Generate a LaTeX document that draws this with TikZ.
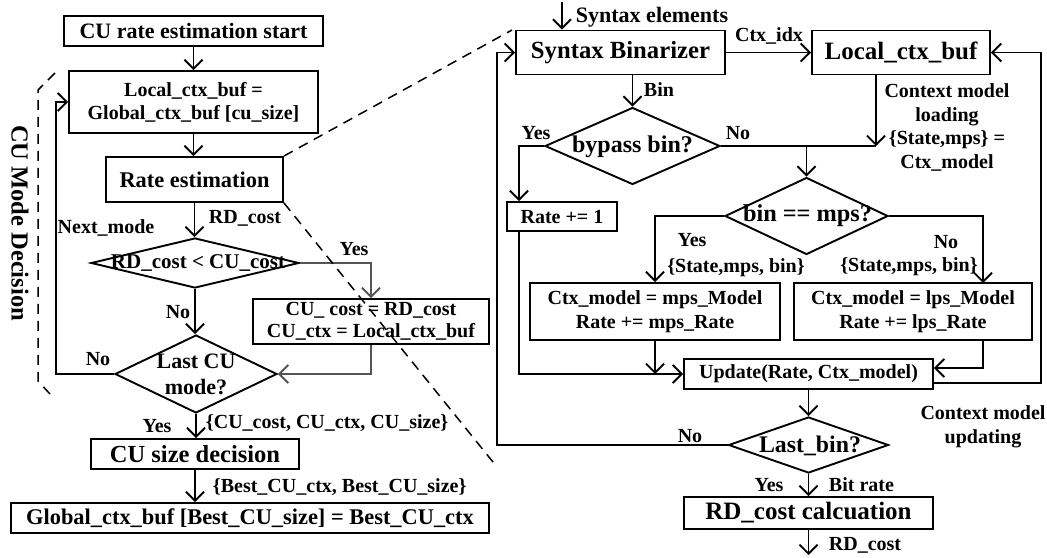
\documentclass[tikz,border=0pt]{standalone}
\usepackage{fontspec}
\setmainfont{Liberation Serif}
\usetikzlibrary{arrows.meta,shapes.geometric}
\definecolor{linkgrey}{RGB}{85,85,85}
\newcommand{\fsz}[2]{\fontsize{#1}{#2}\selectfont\bfseries}

\begin{document}
\begin{tikzpicture}[x=1pt,y=-1pt,
  line width=1.9pt,
  >={Straight Barb[length=9pt,width=18pt]},
  box/.style={draw,rectangle,inner sep=0pt,align=center},
  dia/.style={draw,diamond,inner sep=0pt},
  txt/.style={inner sep=0pt,align=center},
  lbl/.style={inner sep=0pt,align=center,font=\fsz{20}{23.5}},
  zoomline/.style={dash pattern=on 10pt off 7pt,line width=1.5pt},
]
\useasboundingbox (0,0) rectangle (1047,557);

% ---------- CU mode decision (left) ----------
\node[box,minimum width=259pt,minimum height=30pt,font=\fsz{22}{24}] (start) at (193.5,31) {CU rate estimation start};
\node[box,minimum width=249pt,minimum height=62pt,font=\fsz{20}{23}] (load) at (193.5,102) {Local\_ctx\_buf =\\Global\_ctx\_buf [cu\_size]};
\node[box,minimum width=177pt,minimum height=45pt,font=\fsz{22.4}{24}] (rate) at (194.5,179.5) {Rate estimation};
\node[dia,minimum width=208pt,minimum height=50pt] (cmp) at (195,263) {};
\node[txt,font=\fsz{21}{23}] (cmpt) at (198,263) {RD\_cost < CU\_cost};
\node[box,minimum width=236pt,minimum height=45pt,font=\fsz{20}{22}] (keep) at (371,321.5) {CU\_ cost = RD\_cost\\CU\_ctx = Local\_ctx\_buf};
\node[dia,minimum width=162pt,minimum height=78pt] (last) at (196,374) {};
\node[txt,font=\fsz{22}{26}] (lastt) at (196,374) {Last CU\\mode?};
\node[box,minimum width=208pt,minimum height=30pt,font=\fsz{24.5}{26}] (size) at (195,454) {CU size decision};
\node[box,minimum width=478pt,minimum height=30pt,font=\fsz{22.4}{24}] (store) at (250,518) {Global\_ctx\_buf [Best\_CU\_size] = Best\_CU\_ctx};

\draw[->] (start.south) -- (start.south |- load.north);
\draw[->] (load.south) -- (load.south |- rate.north);
\draw[->] (rate.south) -- (rate.south |- cmp.north);
\draw[->] (cmp.south) -- (cmp.south |- last.north);
\draw[->] (last.south) -- (last.south |- size.north);
\draw[->] (size.south) -- (size.south |- store.north);
\draw[->,linkgrey] (cmp.east) -| (keep.north);
\draw[->,linkgrey] (keep.south) |- (last.east);
\coordinate (lp) at (56,374);
\draw[->] (last.west) -- (lp) |- (load.west);

\node[lbl,anchor=west] (lrd) at (208,218) {RD\_cost};
\node[lbl] (lnext) at (106,228) {Next\_mode};
\node[lbl] (lyes1) at (354,249) {Yes};
\node[lbl] (lno1) at (178,312) {No};
\node[lbl] (lno2) at (98,359) {No};
\node[lbl] (lyes2) at (157,426) {Yes};
\node[lbl,anchor=west] (lcu) at (205,423) {\{CU\_cost, CU\_ctx, CU\_size\}};
\node[lbl,anchor=west] (lbest) at (212,487) {\{Best\_CU\_ctx, Best\_CU\_size\}};

% dashed bracket of the mode loop
\node[txt,rotate=-90,font=\fsz{24.5}{26}] (mode) at (20,223) {CU Mode Decision};
\draw[zoomline] (55,73) -- (38,90) -- (38,381) -- (50,394);

% ---------- rate estimation detail (right) ----------
\node[box,minimum width=209pt,minimum height=44pt,font=\fsz{24.7}{26}] (bin) at (620.5,52.5) {Syntax Binarizer};
\node[box,minimum width=178pt,minimum height=44pt,font=\fsz{25}{26}] (buf) at (901,52.5) {Local\_ctx\_buf};
\node[dia,minimum width=175pt,minimum height=77pt] (byp) at (632.5,146) {};
\node[txt,font=\fsz{24}{26}] (bypt) at (632.5,147) {bypass bin?};
\node[box,minimum width=110pt,minimum height=29pt,font=\fsz{20}{22}] (one) at (562,216.5) {Rate += 1};
\node[dia,minimum width=163pt,minimum height=77pt] (mps) at (806.5,216) {};
\node[txt,font=\fsz{24.3}{26}] (mpst) at (807.5,216) {bin == mps?};
\node[box,minimum width=250pt,minimum height=57pt,font=\fsz{20}{24}] (mpsm) at (655,311.5) {Ctx\_model = mps\_Model\\Rate += mps\_Rate};
\node[box,minimum width=238pt,minimum height=57pt,font=\fsz{20}{24}] (lpsm) at (913,311.5) {Ctx\_model = lps\_Model\\Rate += lps\_Rate};
\node[box,minimum width=249pt,minimum height=30pt,font=\fsz{20}{22}] (upd) at (808.5,374) {Update(Rate, Ctx\_model)};
\node[dia,minimum width=160pt,minimum height=56pt] (lbin) at (808.5,445) {};
\node[txt,font=\fsz{23.8}{26}] (lbint) at (810,446) {Last\_bin?};
\node[box,minimum width=249pt,minimum height=32pt,font=\fsz{25}{26}] (rdc) at (808.5,513) {RD\_cost calcuation};

\coordinate (se) at (562,2);
\coordinate (ry) at (519,146);
\coordinate (j1) at (876,146);
\coordinate (lx) at (983,283);
\coordinate (rp) at (497,445);
\coordinate (out) at (808.5,555);

\draw[->] (se) -- (se |- bin.north);
\draw[->] (bin.east) -- (buf.west);
\draw[->] (bin.south -| byp.north) -- (byp.north);
\draw[->] (byp.west) -| (one.north -| ry);
\draw[->] (one.south -| ry) |- (upd.west);
\draw (byp.east) -- (j1);
\draw[->] (buf.south -| j1) -- (j1);
\draw[->] (mps.north |- j1) -- (mps.north);
\draw[->] (mps.west) -| (mpsm.north);
\draw[->] (mps.east) -| (lx);
\draw[->] (mpsm.south) -- (mpsm.south |- upd.west);
\draw[->] (lpsm.south -| lx) |- (upd.east |- 0,368);
\draw[->] (upd.east |- 0,383) -| ([xshift=50pt]buf.east) -- (buf.east);
\draw[->] (upd.south) -- (lbin.north);
\draw[->] (lbin.west) -- (rp) |- (bin.west);
\draw[->] (lbin.south) -- (rdc.north);
\draw[->] (rdc.south) -- (out);

\node[lbl,anchor=west,font=\fsz{22}{24}] (lse) at (575,17) {Syntax elements};
\node[lbl] (lidx) at (769,36) {Ctx\_idx};
\node[lbl,anchor=west] (lbinl) at (643,90) {Bin};
\node[lbl] (lyes3) at (536,133) {Yes};
\node[lbl] (lno3) at (738,133) {No};
\node[lbl] (lload) at (947,127.5) {Context model\\loading\\\{State,mps\} =\\Ctx\_model};
\node[lbl] (lyes4) at (692,240) {Yes};
\node[lbl] (lst1) at (736,268) {\{State,mps, bin\}};
\node[lbl] (lno4) at (946,242) {No};
\node[lbl] (lst2) at (909,267) {\{State,mps, bin\}};
\node[lbl] (lupd) at (983,427) {Context model\\updating};
\node[lbl] (lno5) at (690,436) {No};
\node[lbl] (lyes5) at (769,485) {Yes};
\node[lbl,anchor=west] (lbit) at (828,485) {Bit rate};
\node[lbl,anchor=west] (lrd2) at (828,545) {RD\_cost};

% zoom-out lines from the rate estimation step
\draw[zoomline] (rate.north east) -- (512,30);
\draw[zoomline] (rate.south east) -- (497,467);
\end{tikzpicture}
\end{document}
